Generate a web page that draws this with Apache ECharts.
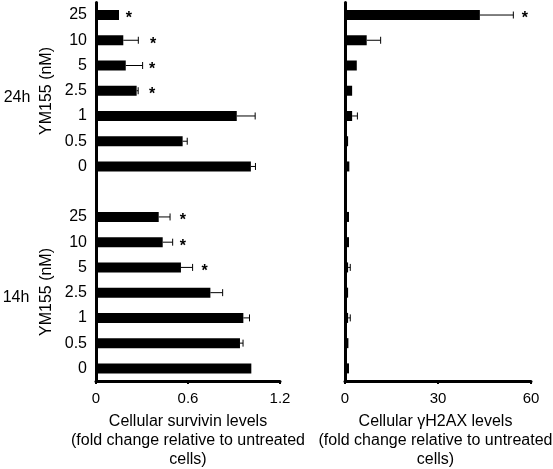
<!DOCTYPE html>
<html><head><meta charset="utf-8">
<script src="https://cdn.jsdelivr.net/npm/echarts@6/dist/echarts.min.js"></script>
<style>html,body{margin:0;padding:0;background:#fff}#c{width:553px;height:469px}</style>
</head><body><div id="c"></div>
<script>
const doses = ['25','10','5','2.5','1','0.5','0'];
const groups = ['24h','14h'];
const survivin24 = [0.15, 0.178, 0.194, 0.265, 0.918, 0.565, 1.01];
const survivinErr24 = [0, 0.098, 0.11, 0.01, 0.12, 0.03, 0.03];
const survivin14 = [0.409, 0.435, 0.554, 0.746, 0.961, 0.939, 1.013];
const survivinErr14 = [0.074, 0.065, 0.076, 0.08, 0.04, 0.02, 0];
const h2ax24 = [43.5, 7.0, 3.8, 2.3, 2.3, 1.0, 1.4];
const h2axErr24 = [10.8, 4.5, 0, 0, 1.7, 0, 0];
const h2ax14 = [1.3, 1.3, 1.0, 1.0, 1.0, 1.1, 1.3];
const h2axErr14 = [0, 0, 0.7, 0, 0.7, 0, 0];
// significance stars: [group index, dose index, x position in data units]
const starsSurvivin = [[0,0,0.215],[0,1,0.372],[0,2,0.366],[0,3,0.366],[1,0,0.567],[1,1,0.567],[1,2,0.709]];
const starsH2ax = [[0,0,58]];
const survivinTicks = {min:0, max:1.2, interval:0.6};
const h2axTicks = {min:0, max:60, interval:30};

const FONT = '"Liberation Sans", Arial, sans-serif';
// categories: 24h doses, spacer, 14h doses
const cats = [];
doses.forEach(d => cats.push('24h|' + d));
cats.push('gap|');
doses.forEach(d => cats.push('14h|' + d));
const catIndex = (g, i) => g === 0 ? i : doses.length + 1 + i;

function barData(a24, a14) {
  const out = new Array(cats.length).fill(null);
  a24.forEach((v, i) => out[catIndex(0, i)] = v);
  a14.forEach((v, i) => out[catIndex(1, i)] = v);
  return out;
}
function errData(a24, e24, a14, e14) {
  const out = [];
  a24.forEach((v, i) => { if (e24[i] > 0) out.push([v, catIndex(0, i), e24[i]]); });
  a14.forEach((v, i) => { if (e14[i] > 0) out.push([v, catIndex(1, i), e14[i]]); });
  return out;
}
function starData(s) { return s.map(([g, i, x]) => [x, catIndex(g, i)]); }

function errRender(params, api) {
  const v = api.value(0), c = api.value(1), e = api.value(2);
  const p0 = api.coord([v, c]);
  const p1 = api.coord([v + e, c]);
  const cap = 3.5;
  return {type:'group', children:[
    {type:'line', shape:{x1:p0[0], y1:p0[1], x2:p1[0], y2:p1[1]}, style:{stroke:'#000', lineWidth:1}},
    {type:'line', shape:{x1:p1[0], y1:p1[1]-cap, x2:p1[0], y2:p1[1]+cap}, style:{stroke:'#000', lineWidth:1}}
  ]};
}
function starRender(params, api) {
  const p = api.coord([api.value(0), api.value(1)]);
  return {type:'text', x:p[0], y:p[1]+4, style:{text:'*', font:'bold 16px ' + FONT, fill:'#000', align:'center', verticalAlign:'middle'}};
}

const axisLine = {show:true, lineStyle:{color:'#000', width:3}};
const xName = (t) => t + '\n(fold change relative to untreated\ncells)';
function xAxis(idx, ticks, name, pad) {
  return {type:'value', gridIndex:idx, min:ticks.min, max:ticks.max, interval:ticks.interval,
    axisLine, axisTick:{show:true, length:3, lineStyle:{color:'#000', width:2}},
    splitLine:{show:false},
    axisLabel:{color:'#000', fontSize:15, fontFamily:FONT, margin:10},
    name, nameLocation:'middle', nameGap:31, nameMoveOverlap:false,
    nameTextStyle:{color:'#000', fontSize:16, fontFamily:FONT, lineHeight:19, padding:pad}};
}
function yAxis(idx, showLabels) {
  return {type:'category', gridIndex:idx, data:cats, inverse:true, boundaryGap:true,
    axisLine, axisTick:{show:false},
    axisLabel:{show:showLabels, color:'#000', fontSize:16, fontFamily:FONT, margin:9,
      formatter: v => v.split('|')[1]}};
}

const option = {
  animation:false,
  grid:[
    {left:96, right:273, top:2.4, bottom:88, outerBoundsMode:'none'},
    {left:345, right:22, top:2.4, bottom:88, outerBoundsMode:'none'}
  ],
  xAxis:[xAxis(0, survivinTicks, xName('Cellular survivin levels'), [0,0,0,0]),
         xAxis(1, h2axTicks, xName('Cellular γH2AX levels'), [0,5,0,0])],
  yAxis:[yAxis(0, true), yAxis(1, false)],
  series:[
    {type:'bar', xAxisIndex:0, yAxisIndex:0, data:barData(survivin24, survivin14), barWidth:10, itemStyle:{color:'#000'}},
    {type:'bar', xAxisIndex:1, yAxisIndex:1, data:barData(h2ax24, h2ax14), barWidth:10, itemStyle:{color:'#000'}},
    {type:'custom', xAxisIndex:0, yAxisIndex:0, data:errData(survivin24, survivinErr24, survivin14, survivinErr14), renderItem:errRender, encode:{x:0, y:1}, z:5},
    {type:'custom', xAxisIndex:1, yAxisIndex:1, data:errData(h2ax24, h2axErr24, h2ax14, h2axErr14), renderItem:errRender, encode:{x:0, y:1}, z:5},
    {type:'custom', xAxisIndex:0, yAxisIndex:0, data:starData(starsSurvivin), renderItem:starRender, encode:{x:0, y:1}, z:5},
    {type:'custom', xAxisIndex:1, yAxisIndex:1, data:starData(starsH2ax), renderItem:starRender, encode:{x:0, y:1}, z:5}
  ],
  graphic:[
    {type:'text', x:47, y:91, rotation:Math.PI/2, style:{text:'YM155 (nM)', font:'16px ' + FONT, fill:'#000', align:'center', verticalAlign:'middle'}},
    {type:'text', x:47, y:292, rotation:Math.PI/2, style:{text:'YM155 (nM)', font:'16px ' + FONT, fill:'#000', align:'center', verticalAlign:'middle'}},
    {type:'text', x:17, y:98, style:{text:groups[0], font:'16px ' + FONT, fill:'#000', align:'center', verticalAlign:'middle'}},
    {type:'text', x:16, y:298, style:{text:groups[1], font:'16px ' + FONT, fill:'#000', align:'center', verticalAlign:'middle'}}
  ]
};
echarts.init(document.getElementById('c'), null, {renderer:'canvas'}).setOption(option);
</script></body></html>
